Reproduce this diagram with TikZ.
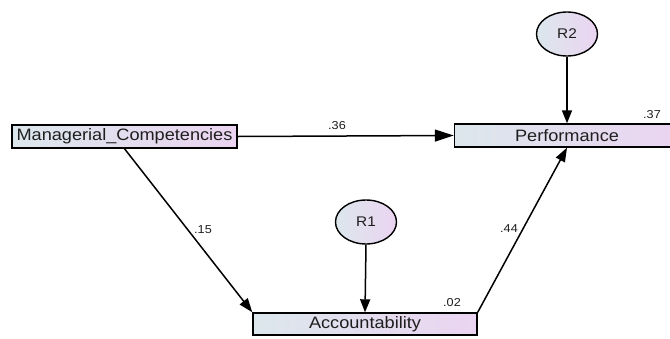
\documentclass[tikz,border=0pt]{standalone}
\usepackage{fontspec}
\setmainfont{Liberation Sans}[FakeStretch=1.1]
\usetikzlibrary{arrows.meta,shapes.geometric}
\definecolor{gleft}{HTML}{DCE7EC}
\definecolor{gright}{HTML}{EBD4F1}
\definecolor{txt}{HTML}{1E1E1E}
\begin{document}
\begin{tikzpicture}[x=1pt,y=-1pt,
  varbox/.style={draw=black, line width=1.4pt, left color=gleft, right color=gright,
    minimum height=23pt, inner sep=0pt, text=txt, font=\fontsize{16.5}{18}\selectfont},
  errcirc/.style={draw=black, line width=1.4pt, ellipse, minimum width=61pt, minimum height=44pt,
    inner sep=0pt, left color=gleft, right color=gright, text=txt, font=\fontsize{14}{16}\selectfont},
  coef/.style={inner sep=0pt, text=txt, font=\fontsize{11.5}{13}\selectfont},
  path/.style={line width=1.5pt, -{Triangle[length=14pt,width=10pt]}}
]
\useasboundingbox (0,0) rectangle (670,338);
\fill[white] (0,0) rectangle (670,338);
\node[varbox, minimum width=225pt] (mc) at (124.5,136.5) {Managerial\_Competencies};
\node[varbox, minimum width=225pt] (perf) at (567,135.5) {Performance};
\node[varbox, minimum width=224pt, minimum height=22pt] (acc) at (365,324) {Accountability};
\node[errcirc] (r1) at (366,222) {R1};
\node[errcirc] (r2) at (567,34) {R2};
\draw[line width=1.5pt, -{Triangle[length=19pt,width=12pt]}] (mc.east) -- (perf.west);
\draw[path] (mc.south) -- (acc.north west);
\draw[path] (acc.north east) -- (perf.south);
\draw[path, -{Triangle[length=13pt,width=10pt]}] (r1.south) -- (acc.north);
\draw[path, -{Triangle[length=13pt,width=10pt]}] (r2.south) -- (perf.north);
\node[coef] (c36) at (337,126) {.36};
\node[coef] (c15) at (203,230) {.15};
\node[coef] (c44) at (509,229) {.44};
\node[coef] (c37) at (652,115) {.37};
\node[coef] (c02) at (452,303) {.02};
\end{tikzpicture}
\end{document}
